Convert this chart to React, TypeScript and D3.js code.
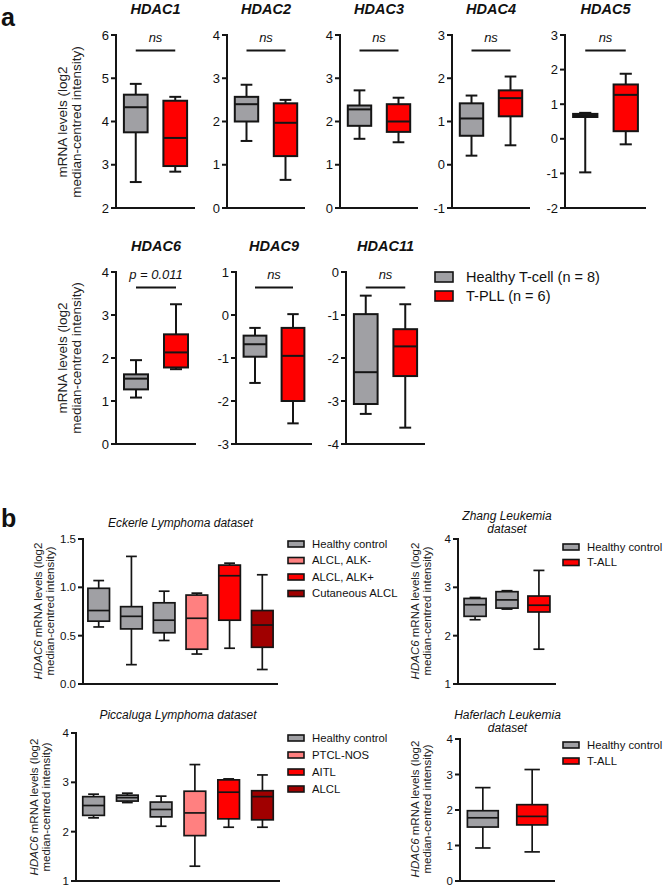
import React from 'react';
import * as d3 from 'd3';

// box stats: [min, q1, median, q3, max]
const GRAY = '#a0a0a4';
const RED = '#ff0000';
const PINK = '#ff8080';
const DARK = '#a00000';
const INK = '#151515';

// ---- panel a : T-PLL vs healthy T-cells ----
const hdacGenes = ['HDAC1', 'HDAC2', 'HDAC3', 'HDAC4', 'HDAC5', 'HDAC6', 'HDAC9', 'HDAC11'];
const healthyTcell = [
  [2.6, 3.75, 4.33, 4.62, 4.87],
  [1.55, 2.0, 2.4, 2.57, 2.85],
  [1.6, 1.9, 2.28, 2.37, 2.72],
  [0.21, 0.67, 1.07, 1.42, 1.6],
  [-0.97, 0.63, 0.68, 0.72, 0.75],
  [1.08, 1.27, 1.52, 1.62, 1.95],
  [-1.58, -0.97, -0.68, -0.48, -0.3],
  [-3.3, -3.07, -2.33, -0.98, -0.55],
];
const tpll = [
  [2.84, 2.97, 3.62, 4.48, 4.57],
  [0.65, 1.2, 1.97, 2.42, 2.5],
  [1.52, 1.76, 2.0, 2.4, 2.55],
  [0.45, 1.12, 1.54, 1.72, 2.04],
  [-0.16, 0.22, 1.27, 1.57, 1.88],
  [1.74, 1.78, 2.13, 2.55, 3.25],
  [-2.52, -2.0, -0.95, -0.3, 0.02],
  [-3.62, -2.42, -1.73, -1.33, -0.75],
];
const hdacDomains = [[2, 6], [0, 4], [0, 4], [-1, 3], [-2, 3], [0, 4], [-3, 1], [-4, 0]];
const hdacSig = ['ns', 'ns', 'ns', 'ns', 'ns', 'p = 0.011', 'ns', 'ns'];
const legendA = ['Healthy T-cell (n = 8)', 'T-PLL (n = 6)'];

// ---- panel b ----
const eckerleGroups = ['Healthy control', 'Healthy control', 'Healthy control', 'ALCL, ALK-', 'ALCL, ALK+', 'Cutaneous ALCL'];
const eckerleStats = [
  [0.59, 0.65, 0.76, 0.99, 1.07],
  [0.2, 0.57, 0.7, 0.8, 1.32],
  [0.45, 0.53, 0.66, 0.84, 0.96],
  [0.31, 0.36, 0.68, 0.92, 0.94],
  [0.37, 0.66, 1.12, 1.23, 1.25],
  [0.15, 0.38, 0.61, 0.76, 1.13],
];
const eckerleLegend = ['Healthy control', 'ALCL, ALK-', 'ALCL, ALK+', 'Cutaneous ALCL'];

const piccalugaGroups = ['Healthy control', 'Healthy control', 'Healthy control', 'PTCL-NOS', 'AITL', 'ALCL'];
const piccalugaStats = [
  [2.28, 2.33, 2.53, 2.71, 2.76],
  [2.59, 2.62, 2.69, 2.74, 2.78],
  [2.11, 2.3, 2.45, 2.6, 2.72],
  [1.3, 1.92, 2.38, 2.82, 3.36],
  [2.09, 2.26, 2.8, 3.05, 3.07],
  [2.09, 2.24, 2.71, 2.83, 3.15],
];
const piccalugaLegend = ['Healthy control', 'PTCL-NOS', 'AITL', 'ALCL'];

const zhangGroups = ['Healthy control', 'Healthy control', 'T-ALL'];
const zhangStats = [
  [2.33, 2.4, 2.64, 2.77, 2.79],
  [2.55, 2.57, 2.74, 2.91, 2.93],
  [1.72, 2.49, 2.63, 2.82, 3.35],
];
const haferlachGroups = ['Healthy control', 'T-ALL'];
const haferlachStats = [
  [0.93, 1.52, 1.78, 1.98, 2.63],
  [0.82, 1.58, 1.82, 2.15, 3.14],
];
const leukemiaLegend = ['Healthy control', 'T-ALL'];

const colorOf: Record<string, string> = {
  'Healthy control': GRAY,
  'Healthy T-cell (n = 8)': GRAY,
  'T-PLL (n = 6)': RED,
  'ALCL, ALK-': PINK,
  'PTCL-NOS': PINK,
  'ALCL, ALK+': RED,
  'AITL': RED,
  'T-ALL': RED,
  'Cutaneous ALCL': DARK,
  'ALCL': DARK,
};

const FONT = '"Liberation Sans", Arial, sans-serif';

interface PanelProps {
  x0: number; x1: number; top: number; bottom: number;
  domain: number[]; ticks: number[]; fmt?: (v: number) => string;
  stats: number[][]; fills: string[];
  pi: number; po: number;
  title: string[]; titleY: number; titleStyle: 'bold' | 'plain';
  titleSize: number; titleGap?: number;
  sig?: string; tickSize: number; sw: number;
}

function BoxPanel(p: PanelProps) {
  const x = d3.scaleBand<number>().domain(d3.range(p.stats.length)).range([p.x0, p.x1])
    .paddingInner(p.pi).paddingOuter(p.po);
  const y = d3.scaleLinear().domain(p.domain).range([p.bottom, p.top]);
  const bw = x.bandwidth();
  const fmt = p.fmt ?? ((v: number) => String(v));
  const cx = (p.x0 + p.x1) / 2;
  return (
    <g>
      {p.title.map((t, i) => (
        <text key={i} x={cx} y={p.titleY + i * (p.titleGap ?? 13)} textAnchor="middle"
          fontSize={p.titleSize} fontStyle="italic" fontWeight={p.titleStyle === 'bold' ? 'bold' : 'normal'}>{t}</text>
      ))}
      {p.sig && (
        <g>
          <text x={(x(0)! + x(1)! + bw) / 2} y={p.top + 7} textAnchor="middle" fontSize={13} fontStyle="italic">{p.sig}</text>
          <line x1={x(0)! + bw / 2} x2={x(1)! + bw / 2} y1={p.top + 15.5} y2={p.top + 15.5} stroke={INK} strokeWidth={2} />
        </g>
      )}
      {p.ticks.map(t => (
        <g key={t}>
          <line x1={p.x0 - 5} x2={p.x0} y1={y(t)} y2={y(t)} stroke={INK} strokeWidth={2} />
          <text x={p.x0 - 7} y={y(t)} dy="0.35em" textAnchor="end" fontSize={p.tickSize}>{fmt(t)}</text>
        </g>
      ))}
      <line x1={p.x0} x2={p.x0} y1={p.top - 1} y2={p.bottom} stroke={INK} strokeWidth={2} />
      <line x1={p.x0} x2={p.x1} y1={p.bottom} y2={p.bottom} stroke={INK} strokeWidth={2} />
      {p.stats.map((s, i) => {
        const bx = x(i)!;
        const mid = bx + bw / 2;
        const cap = bw / 4;
        return (
          <g key={i} stroke={INK} strokeWidth={p.sw}>
            <line x1={mid} x2={mid} y1={y(s[0])} y2={y(s[4])} />
            <line x1={mid - cap} x2={mid + cap} y1={y(s[0])} y2={y(s[0])} />
            <line x1={mid - cap} x2={mid + cap} y1={y(s[4])} y2={y(s[4])} />
            <rect x={bx} y={y(s[3])} width={bw} height={y(s[1]) - y(s[3])} fill={p.fills[i]} />
            <line x1={bx} x2={bx + bw} y1={y(s[2])} y2={y(s[2])} />
          </g>
        );
      })}
    </g>
  );
}

function YLabel({ x, y, size, gap, italicLead }: { x: number; y: number; size: number; gap: number; italicLead?: string }) {
  return (
    <g transform={`translate(${x},${y}) rotate(-90)`} fontSize={size} fill="#222">
      <text x={0} y={0} textAnchor="middle">
        {italicLead && <tspan fontStyle="italic">{italicLead}</tspan>}
        {italicLead ? ' mRNA levels (log2' : 'mRNA levels (log2'}
      </text>
      <text x={0} y={gap} textAnchor="middle">median-centred intensity)</text>
    </g>
  );
}

function Legend({ x, y, items, rw, rh, step, size, tx }: { x: number; y: number; items: string[]; rw: number; rh: number; step: number; size: number; tx: number }) {
  return (
    <g>
      {items.map((it, i) => (
        <g key={it} transform={`translate(${x},${y + i * step})`}>
          <rect x={0} y={-rh / 2} width={rw} height={rh} fill={colorOf[it]} stroke={INK} strokeWidth={1.6} />
          <text x={tx} y={0} dy="0.35em" fontSize={size}>{it}</text>
        </g>
      ))}
    </g>
  );
}

// layout of the eight HDAC panels: [axisX, xEnd, top, bottom]
const aLayout = [
  [116, 195, 35, 208], [227, 305, 35, 208], [340, 418, 35, 208], [452, 530, 35, 208], [565, 646, 35, 208],
  [116, 196, 272, 444], [236, 312, 272, 444], [346, 425, 272, 444],
];

export default function App() {
  const f1 = (v: number) => v.toFixed(1);
  return (
    <div style={{ position: 'absolute', left: 0, top: 0 }}>
      <svg width={666} height={886} style={{ display: 'block', background: '#fff' }} fontFamily={FONT} fill="#111">
        <text x={1} y={26} fontSize={25} fontWeight="bold">a</text>
        <text x={1} y={527} fontSize={25} fontWeight="bold">b</text>

        {hdacGenes.map((g, i) => {
          const [x0, x1, top, bottom] = aLayout[i];
          const d = hdacDomains[i];
          return (
            <BoxPanel key={g} x0={x0} x1={x1} top={top} bottom={bottom} domain={d}
              ticks={d3.range(d[0], d[1] + 1)} stats={[healthyTcell[i], tpll[i]]} fills={[GRAY, RED]}
              pi={0.4} po={0.2} title={[g]} titleY={top - 21} titleStyle="bold" titleSize={14.5}
              sig={hdacSig[i]} tickSize={13} sw={2} />
          );
        })}
        <YLabel x={67} y={122} size={13.5} gap={13.5} />
        <YLabel x={67} y={358} size={13.5} gap={13.5} />
        <Legend x={435} y={277} items={legendA} rw={18} rh={10} step={19} size={14.5} tx={31} />

        <BoxPanel x0={83} x1={278} top={539} bottom={684} domain={[0, 1.5]} ticks={[0, 0.5, 1, 1.5]} fmt={f1}
          stats={eckerleStats} fills={eckerleGroups.map(g => colorOf[g])} pi={0.34} po={0.15}
          title={['Eckerle Lymphoma dataset']} titleY={527} titleStyle="plain" titleSize={12}
          tickSize={11.5} sw={1.7} />
        <YLabel x={42} y={611} size={11.5} gap={12} italicLead="HDAC6" />
        <Legend x={288} y={544} items={eckerleLegend} rw={16} rh={6} step={16.5} size={11.3} tx={24} />

        <BoxPanel x0={458} x1={556} top={539} bottom={684} domain={[1, 4]} ticks={[1, 2, 3, 4]}
          stats={zhangStats} fills={zhangGroups.map(g => colorOf[g])} pi={0.31} po={0.19}
          title={['Zhang Leukemia', 'dataset']} titleY={520} titleGap={13} titleStyle="plain" titleSize={12}
          tickSize={11.5} sw={1.7} />
        <YLabel x={419} y={611} size={11.5} gap={12} italicLead="HDAC6" />
        <Legend x={563} y={547} items={leukemiaLegend} rw={16} rh={6} step={15.5} size={11.3} tx={24} />

        <BoxPanel x0={76} x1={280} top={733} bottom={881} domain={[1, 4]} ticks={[1, 2, 3, 4]}
          stats={piccalugaStats} fills={piccalugaGroups.map(g => colorOf[g])} pi={0.36} po={0.2}
          title={['Piccaluga Lymphoma dataset']} titleY={719} titleStyle="plain" titleSize={12}
          tickSize={11.5} sw={1.7} />
        <YLabel x={38} y={807} size={11.5} gap={12} italicLead="HDAC6" />
        <Legend x={288} y={738} items={piccalugaLegend} rw={16} rh={6} step={17} size={11.3} tx={24} />

        <BoxPanel x0={460} x1={555} top={739} bottom={881} domain={[0, 4]} ticks={[0, 1, 2, 3, 4]}
          stats={haferlachStats} fills={haferlachGroups.map(g => colorOf[g])} pi={0.375} po={0.15}
          title={['Haferlach Leukemia', 'dataset']} titleY={719} titleGap={13} titleStyle="plain" titleSize={12}
          tickSize={11.5} sw={1.7} />
        <YLabel x={419} y={809} size={11.5} gap={12} italicLead="HDAC6" />
        <Legend x={563} y={745} items={leukemiaLegend} rw={16} rh={6} step={16} size={11.3} tx={24} />
      </svg>
    </div>
  );
}
